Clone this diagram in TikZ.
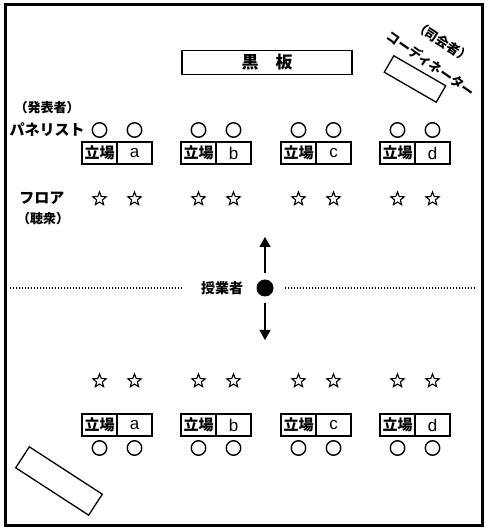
\documentclass[tikz,border=0pt]{standalone}
\usepackage{fontspec}
\newfontfamily\jp{Noto Sans CJK JP}
\newfontfamily\lat{Liberation Sans}
\usetikzlibrary{arrows.meta,shapes.geometric}
\begin{document}
\begin{tikzpicture}[x=1pt,y=1pt,
  jps/.style={font=\jp\bfseries\fontsize{13}{13}\selectfont, inner sep=0},
  jpl/.style={font=\jp\bfseries\fontsize{15}{15}\selectfont, inner sep=0},
  cellbox/.style={draw, line width=1.3pt, minimum width=35pt, minimum height=22pt, inner sep=0},
  celljp/.style={cellbox, font=\jp\bfseries\fontsize{15}{15}\selectfont},
  celllat/.style={cellbox, font=\lat\fontsize{17}{17}\selectfont},
  seat/.style={circle, draw, line width=1.4pt, minimum size=14.5pt, inner sep=0},
  starmark/.style={star, star points=5, star point ratio=2.3, draw, line width=1.1pt,
                   minimum size=14pt, inner sep=0},
  deskbox/.style={draw, line width=1.3pt, inner sep=0},
  dotline/.style={line width=1.4pt, dash pattern=on 1.1pt off 1.9pt},
  moveline/.style={line width=1.3pt, -{Triangle[length=10pt,width=11pt]}}
]
\useasboundingbox (0,0) rectangle (486,530);
\draw[line width=3pt] (5,4) rectangle (482,525);
% blackboard
\node[draw, line width=1.8pt, minimum width=170pt, minimum height=24pt, inner sep=0,
      font=\jp\bfseries\fontsize{17}{17}\selectfont] (board) at (267,467.5) {黒　板};
% coordinator
\node[deskbox, minimum width=60pt, minimum height=19pt, rotate=-30] (desk1) at (415,451) {};
\node[jps, rotate=-35] (coord) at (431,466) {コーディネーター};
\node[jps, rotate=-33] (chair) at (443,488) {（司会者）};
% bottom-left desk
\node[deskbox, minimum width=87pt, minimum height=25pt, rotate=-33] (desk2) at (59,49) {};
% left labels
\node[jps] (presenter) at (47,422) {（発表者）};
\node[jpl] (panel) at (47,400) {パネリスト};
\node[jpl] (floor) at (42,332) {フロア};
\node[jps] (audience) at (43,311) {（聴衆）};
% groups
\foreach \L/\n [count=\i] in {82/a,181/b,281/c,380/d}{
  % top
  \node[celljp] (tpos\i) at (\L+17.5,377) {立場};
  \node[celllat] (tlet\i) at (\L+52.5,377) {\n};
  \node[seat] (tsa\i) at (\L+17.5,400) {};
  \node[seat] (tsb\i) at (\L+52.5,400) {};
  \node[starmark] (tsta\i) at (\L+17.5,331) {};
  \node[starmark] (tstb\i) at (\L+52.5,331) {};
  % bottom
  \node[celljp] (bpos\i) at (\L+17.5,105) {立場};
  \node[celllat] (blet\i) at (\L+52.5,105) {\n};
  \node[seat] (bsa\i) at (\L+17.5,82) {};
  \node[seat] (bsb\i) at (\L+52.5,82) {};
  \node[starmark] (bsta\i) at (\L+17.5,149) {};
  \node[starmark] (bstb\i) at (\L+52.5,149) {};
}
% teacher
\node[font=\jp\bfseries\fontsize{14}{14}\selectfont, inner sep=0] (tlabel) at (222,242) {授業者};
\node[circle, fill, minimum size=17pt, inner sep=0] (t) at (265,242) {};
\coordinate (tu) at (265,293);
\coordinate (td) at (265,190);
\draw[moveline, shorten <=6pt] (t) -- (tu);
\draw[moveline, shorten <=6pt] (t) -- (td);
\coordinate (dl) at (10,242);
\coordinate (dr) at (476,242);
\draw[dotline, shorten >=18pt] (dl) -- (tlabel.west);
\draw[dotline, shorten <=11pt] (t.east) -- (dr);
\end{tikzpicture}
\end{document}
